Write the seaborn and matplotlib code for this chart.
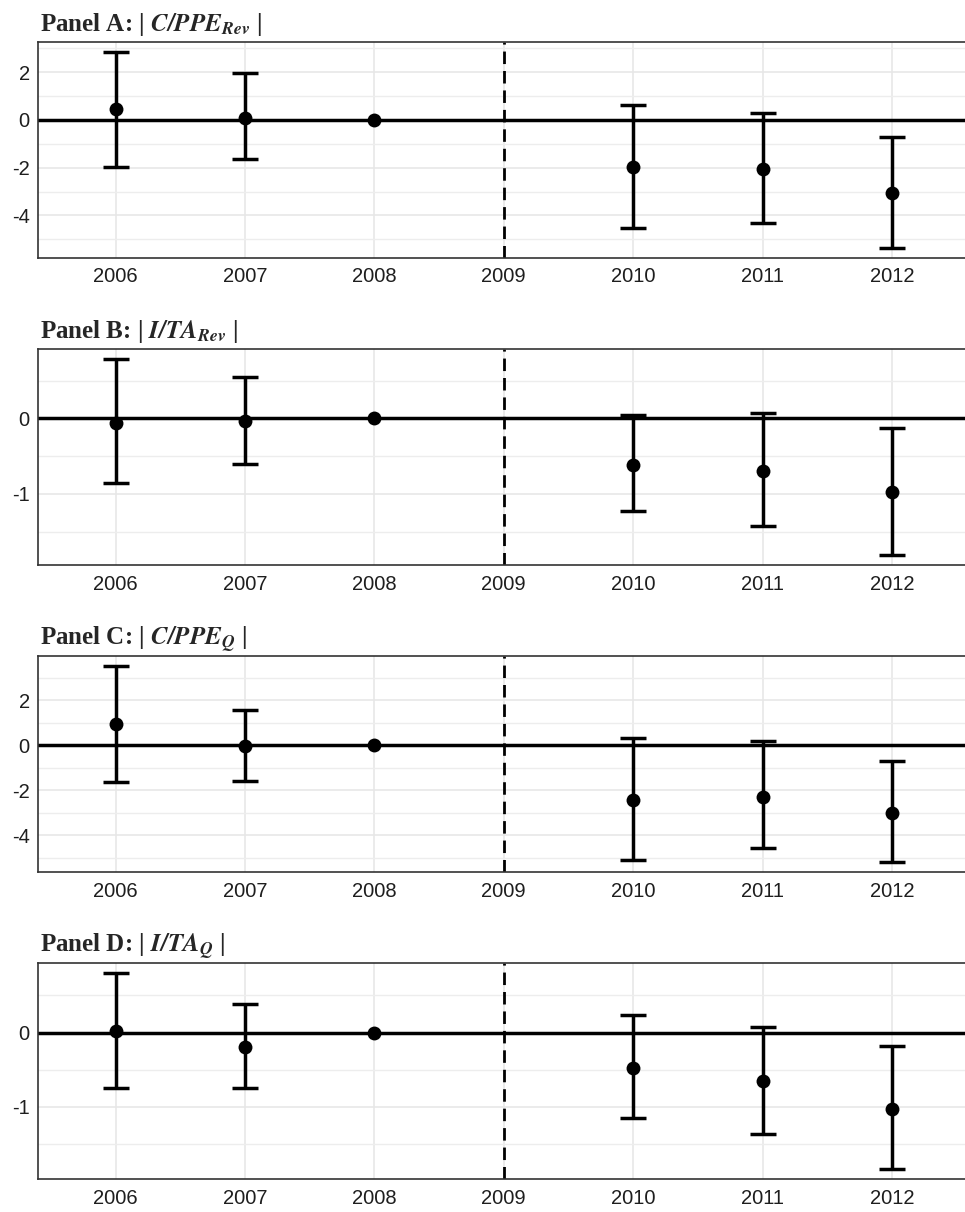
import numpy as np
import matplotlib
matplotlib.use("Agg")
import matplotlib.pyplot as plt
import seaborn as sns
from matplotlib.ticker import MultipleLocator

# Event-study estimates with confidence bounds (2008 is the reference year)
years = [2006, 2007, 2008, 2010, 2011, 2012]
tick_years = [2006, 2007, 2008, 2009, 2010, 2011, 2012]

est_a = [0.45, 0.07, 0.0, -1.96, -2.07, -3.05]
lo_a = [-1.97, -1.63, np.nan, -4.52, -4.31, -5.36]
hi_a = [2.87, 1.97, np.nan, 0.63, 0.29, -0.70]

est_b = [-0.06, -0.03, 0.0, -0.62, -0.70, -0.98]
lo_b = [-0.86, -0.60, np.nan, -1.23, -1.42, -1.81]
hi_b = [0.785, 0.55, np.nan, 0.045, 0.066, -0.13]

est_c = [0.92, -0.04, 0.0, -2.42, -2.29, -3.02]
lo_c = [-1.65, -1.58, np.nan, -5.10, -4.58, -5.22]
hi_c = [3.53, 1.55, np.nan, 0.30, 0.18, -0.71]

est_d = [0.02, -0.20, 0.0, -0.48, -0.65, -1.03]
lo_d = [-0.75, -0.75, np.nan, -1.15, -1.37, -1.84]
hi_d = [0.80, 0.39, np.nan, 0.23, 0.075, -0.18]

titles = [r"Panel A: | $\mathbfit{C/PPE}_{\mathbfit{Rev}}$ |",
          r"Panel B: | $\mathbfit{I/TA}_{\mathbfit{Rev}}$ |",
          r"Panel C: | $\mathbfit{C/PPE}_{\mathbfit{Q}}$ |",
          r"Panel D: | $\mathbfit{I/TA}_{\mathbfit{Q}}$ |"]

panels = [(est_a, lo_a, hi_a, 2, 1),
          (est_b, lo_b, hi_b, 1, 0.5),
          (est_c, lo_c, hi_c, 2, 1),
          (est_d, lo_d, hi_d, 1, 0.5)]

sns.set_style("white")
plt.rcParams["font.family"] = ["Liberation Sans", "DejaVu Sans"]
plt.rcParams["axes.unicode_minus"] = False
plt.rcParams["mathtext.fontset"] = "stix"

W, H = 965, 1212
fig = plt.figure(figsize=(W / 100, H / 100), dpi=100)

# axes top/bottom in pixels
boxes = [(41.7, 257.7), (349.3, 565.0), (656.0, 872.3), (963.3, 1179.0)]
left_px, right_px = 38, 969.6

for (est, lo, hi, major, minor), title, (top, bot) in zip(panels, titles, boxes):
    ax = fig.add_axes([left_px / W, 1 - bot / H, (right_px - left_px) / W, (bot - top) / H])
    est = np.array(est)
    lo = np.array(lo)
    hi = np.array(hi)
    x = np.array(years)
    m = ~np.isnan(lo)

    ax.axhline(0, color="black", lw=2.5, zorder=2)
    ax.axvline(2009, color="black", lw=2.0, ls=(0, (4.5, 2.5)), zorder=2)
    ax.errorbar(x[m], est[m], yerr=[est[m] - lo[m], hi[m] - est[m]], fmt="none",
                ecolor="black", elinewidth=2.5, capsize=9.5, capthick=2.5, zorder=3)
    sns.scatterplot(x=x, y=est, ax=ax, color="black", s=100, edgecolor="black",
                    linewidth=0, zorder=4, legend=False)

    vals = np.concatenate([est, lo[m], hi[m]])
    span = vals.max() - vals.min()
    ax.set_ylim(vals.min() - 0.05 * span, vals.max() + 0.05 * span)
    ax.set_xlim(2005.4, 2012.6)
    ax.set_xticks(tick_years)
    ax.set_xticklabels([str(t) for t in tick_years])
    ax.yaxis.set_major_locator(MultipleLocator(major))
    ax.yaxis.set_minor_locator(MultipleLocator(minor))
    ax.yaxis.set_major_formatter(matplotlib.ticker.FuncFormatter(lambda v, p: f"{v:g}"))

    ax.grid(True, which="major", color="#E6E6E6", lw=1.1, zorder=0)
    ax.grid(True, which="minor", axis="y", color="#EDEDED", lw=1.0, zorder=0)
    ax.set_axisbelow(True)
    ax.tick_params(axis="both", which="both", length=0, labelsize=14.5, colors="#1e1e1e")
    ax.tick_params(axis="y", pad=6)
    ax.tick_params(axis="x", pad=7)
    for s in ax.spines.values():
        s.set_color("#333333")
        s.set_linewidth(1.2)
    ax.set_xlabel("")
    ax.set_ylabel("")
    ax.set_title(title, loc="left", fontsize=18, fontweight="bold",
                 family=["Liberation Serif", "DejaVu Serif"], pad=8, x=0.002)

fig.savefig("out.png", dpi=100)
